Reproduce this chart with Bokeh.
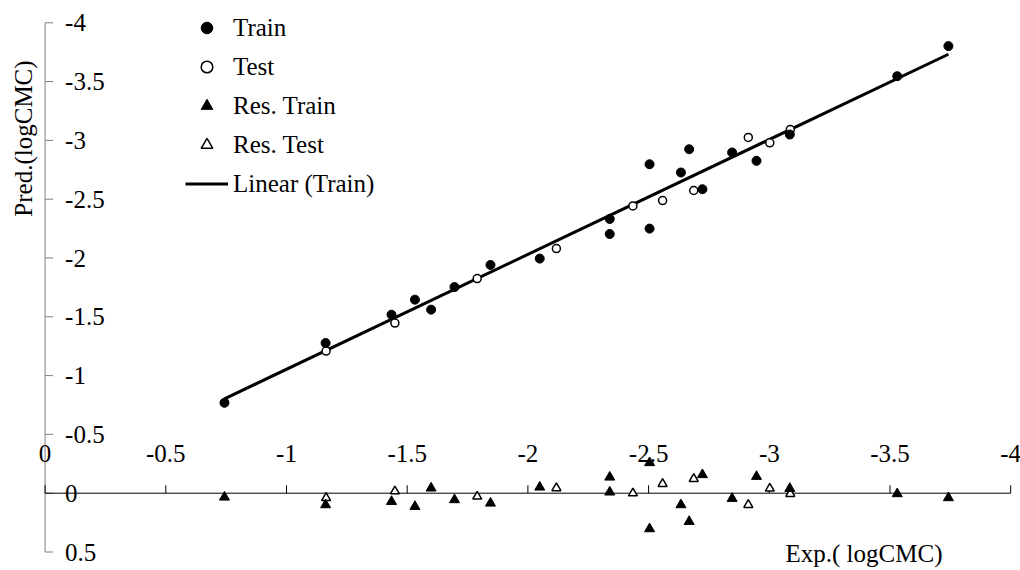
import numpy as np
from bokeh.plotting import figure
from bokeh.models import Range1d, Legend, LegendItem
from bokeh.core.properties import value
from bokeh.embed import file_html
from bokeh.resources import INLINE

# ---------------- data ----------------
train_exp = [-0.743, -1.162, -1.435, -1.532, -1.599, -1.696, -1.845, -2.049, -2.339, -2.339,
             -2.504, -2.504, -2.634, -2.668, -2.723, -2.846, -2.947, -3.085, -3.530, -3.742]
train_pred = [-0.769, -1.277, -1.518, -1.646, -1.561, -1.753, -1.941, -1.995, -2.332, -2.204,
              -2.797, -2.250, -2.727, -2.925, -2.585, -2.897, -2.826, -3.050, -3.546, -3.802]
test_exp = [-1.164, -1.449, -1.790, -2.118, -2.435, -2.558, -2.687, -2.913, -3.002, -3.087]
test_pred = [-1.209, -1.447, -1.825, -2.080, -2.443, -2.488, -2.574, -3.025, -2.979, -3.092]
res_train = [0.034, 0.099, 0.071, 0.113, -0.043, 0.056, 0.085, -0.051, -0.009, -0.136,
             0.303, -0.259, 0.099, 0.241, -0.157, 0.045, -0.142, -0.040, 0.005, 0.039]
res_test = [0.040, -0.017, 0.028, -0.043, 0.000, -0.080, -0.122, 0.099, -0.040, 0.005]

x_ticks = [0, -0.5, -1, -1.5, -2, -2.5, -3, -3.5, -4]
x_tick_labels = ["0", "-0.5", "-1", "-1.5", "-2", "-2.5", "-3", "-3.5", "-4"]
y_ticks = [-4, -3.5, -3, -2.5, -2, -1.5, -1, -0.5, 0, 0.5]
y_tick_labels = ["-4", "-3.5", "-3", "-2.5", "-2", "-1.5", "-1", "-0.5", "0", "0.5"]

x_title = "Exp.( logCMC)"
y_title = "Pred.(logCMC)"

# ---------------- layout helpers ----------------
W, H = 1020, 570
X0_PX, XS = 44.6, 241.4     # px of x=0, px per unit (x grows negative to the right)
Y0_PX, YS = 492.7, 117.6    # px of y=0, px per unit (y grows positive downward)


def cx(px):
    return -(px - X0_PX) / XS


def cy(py):
    return (py - Y0_PX) / YS


FONT = value("Liberation Serif")
FS = "25px"
TICK_PX = 8

p = figure(width=W, height=H, output_backend="svg", toolbar_location=None,
           x_range=Range1d(cx(0), cx(W)), y_range=Range1d(cy(H), cy(0)),
           x_axis_location=None, y_axis_location=None,
           min_border=0, outline_line_color=None,
           background_fill_color="white", border_fill_color="white")
p.grid.visible = False

# ---------------- axes (drawn by hand, Excel style) ----------------
n_y = len(y_ticks)
p.segment(x0=[0], y0=[y_ticks[0]], x1=[0], y1=[y_ticks[-1]], line_color="#808080", line_width=1)
p.segment(x0=[0] * n_y, y0=y_ticks, x1=[-TICK_PX / XS] * n_y, y1=y_ticks,
          line_color="#808080", line_width=1)
p.text(x=[0] * n_y, y=y_ticks, text=y_tick_labels, x_offset=20,
       text_font=FONT, text_font_size=FS, text_align="left", text_baseline="middle", text_color="black")

n_x = len(x_ticks)
p.segment(x0=[x_ticks[0]], y0=[0], x1=[x_ticks[-1]], y1=[0], line_color="black", line_width=1)
p.segment(x0=x_ticks, y0=[0] * n_x, x1=x_ticks, y1=[-TICK_PX / YS] * n_x,
          line_color="black", line_width=1)
p.text(x=x_ticks, y=[0] * n_x, text=x_tick_labels, y_offset=-40,
       text_font=FONT, text_font_size=FS, text_align="center", text_baseline="middle", text_color="black")

# axis titles
p.text(x=[cx(863.5)], y=[cy(553)], text=[x_title], text_font=FONT, text_font_size=FS,
       text_align="center", text_baseline="middle", text_color="black")
p.text(x=[cx(23)], y=[cy(138)], text=[y_title], angle=np.pi / 2, text_font=FONT, text_font_size=FS,
       text_align="center", text_baseline="middle", text_color="black")

# ---------------- series ----------------
slope, intercept = np.polyfit(train_exp, train_pred, 1)
fx = np.array([min(train_exp), max(train_exp)])
r_lin = p.line(fx, slope * fx + intercept, line_color="black", line_width=3)

r_test = p.scatter(test_exp, test_pred, marker="circle", size=8, fill_color="white",
                   line_color="black", line_width=1.5)
r_train = p.scatter(train_exp, train_pred, marker="circle", size=9, fill_color="black",
                    line_color="black", line_width=1)
r_res_test = p.scatter(test_exp, res_test, marker="triangle", size=9, fill_color="white",
                       line_color="black", line_width=1.5)
r_res_train = p.scatter(train_exp, res_train, marker="triangle", size=10, fill_color="black",
                        line_color="black", line_width=1)

legend = Legend(items=[
    LegendItem(label="Train", renderers=[r_train]),
    LegendItem(label="Test", renderers=[r_test]),
    LegendItem(label="Res. Train", renderers=[r_res_train]),
    LegendItem(label="Res. Test", renderers=[r_res_test]),
    LegendItem(label="Linear (Train)", renderers=[r_lin]),
], location=(185, 372), orientation="vertical", padding=0, margin=0,
    border_line_color=None, background_fill_alpha=0,
    label_text_font="Liberation Serif", label_text_font_size=FS,
    label_text_color="black",
    glyph_width=43, glyph_height=29, label_height=29, spacing=10, label_standoff=5)
p.add_layout(legend)

open("out.html", "w").write(file_html(p, INLINE))
